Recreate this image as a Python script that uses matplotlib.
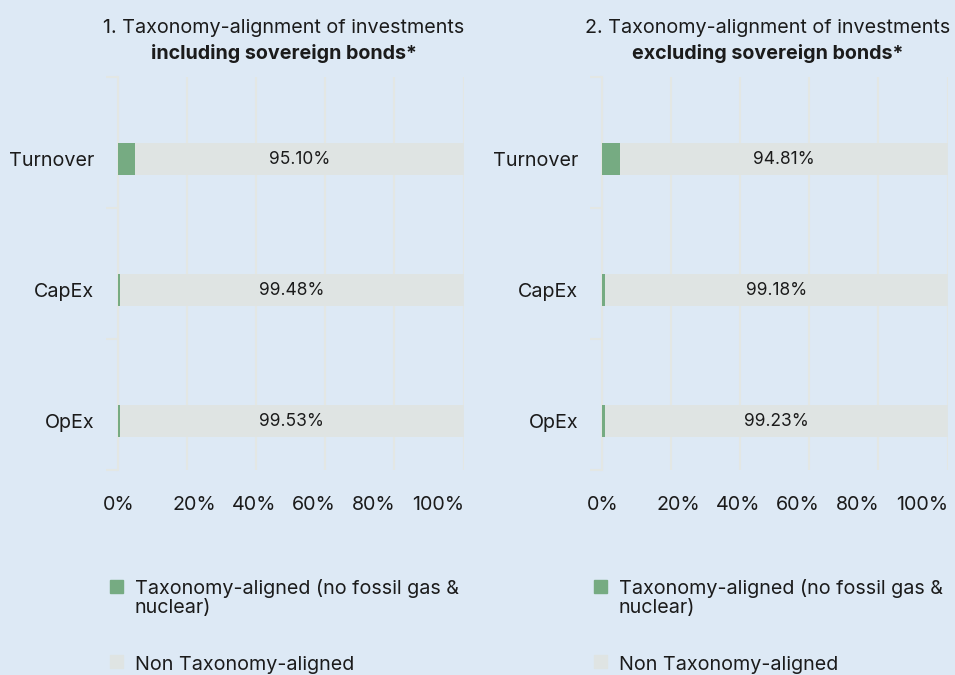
import matplotlib.pyplot as plt
from matplotlib.patches import Rectangle

plt.rcParams['font.family'] = ['Inter', 'DejaVu Sans']

# Data
categories = ['Turnover', 'CapEx', 'OpEx']
aligned_incl = [4.90, 0.52, 0.47]
non_aligned_incl = [95.10, 99.48, 99.53]
aligned_excl = [5.19, 0.82, 0.77]
non_aligned_excl = [94.81, 99.18, 99.23]
titles = ['1. Taxonomy-alignment of investments', '2. Taxonomy-alignment of investments']
subtitles = ['including sovereign bonds*', 'excluding sovereign bonds*']
tick_values = [0, 20, 40, 60, 80, 100]
legend_labels = ['Taxonomy-aligned (no fossil gas &\nnuclear)', 'Non Taxonomy-aligned']

bg = '#dde9f5'
green = '#76ab82'
grey = '#dfe4e3'
line_col = '#e3e7e4'
text_col = '#1b1b1b'
fs = 14.2

fig = plt.figure(figsize=(9.55, 6.75), dpi=100, facecolor=bg)

panels = [
    (0.1236, aligned_incl, non_aligned_incl),
    (0.6304, aligned_excl, non_aligned_excl),
]
# tick labels are spread evenly under the axis rather than under each gridline
label_pos = [0.003, 0.22, 0.393, 0.567, 0.741, 0.927]
# bars sit a little below the middle of their band
band_shift = 0.126

for i, (left, aligned, non_aligned) in enumerate(panels):
    ax = fig.add_axes([left, 0.3037, 0.3618, 0.5822])
    ax.set_facecolor(bg)
    y = list(range(len(categories)))
    ax.barh(y, aligned, height=0.245, color=green, zorder=3)
    bars = ax.barh(y, non_aligned, left=aligned, height=0.245, color=grey, zorder=3)
    for b, v in zip(bars, non_aligned):
        ax.text(b.get_x() + b.get_width() / 2, b.get_y() + b.get_height() / 2,
                f'{v:.2f}%', ha='center', va='center', fontsize=12.5,
                color=text_col, zorder=4)

    ax.set_xlim(0, 100)
    lo, hi = -0.5 - band_shift, len(categories) - 0.5 - band_shift
    ax.set_ylim(hi, lo)
    ax.set_xticks(tick_values)
    ax.set_xticklabels([])
    ax.tick_params(axis='x', length=0)
    ax.grid(axis='x', color=line_col, linewidth=1.5, zorder=0)
    ax.set_axisbelow(True)
    for j, v in enumerate(tick_values):
        ax.text(label_pos[j], -0.089, f'{v}%', transform=ax.transAxes,
                ha='center', va='center', fontsize=fs, color=text_col)

    ax.set_yticks(y)
    ax.set_yticklabels(categories, fontsize=fs, color=text_col)
    ax.tick_params(axis='y', which='major', length=0, pad=17)
    ax.set_yticks([lo + k for k in range(len(categories) + 1)], minor=True)
    ax.tick_params(axis='y', which='minor', length=9, width=1.5, color=line_col)

    for s in ['top', 'right', 'bottom']:
        ax.spines[s].set_visible(False)
    ax.spines['left'].set_color(line_col)
    ax.spines['left'].set_linewidth(1.5)

    ax.text(0.48, 1.124, titles[i], transform=ax.transAxes, ha='center',
            va='center', fontsize=fs, color=text_col)
    ax.text(0.48, 1.061, subtitles[i], transform=ax.transAxes, ha='center',
            va='center', fontsize=fs, fontweight='bold', color=text_col)

    # legend drawn by hand so the swatch sits on the first text line
    lx = left - 0.0085
    for k, (lab, col) in enumerate(zip(legend_labels, [green, grey])):
        sq_bottom = 0.1215 - k * 0.111
        fig.patches.append(Rectangle((lx, sq_bottom), 0.0136, 0.0193,
                                     transform=fig.transFigure, color=col))
        if '\n' in lab:
            fig.text(lx + 0.026, sq_bottom + 0.0205, lab, ha='left', va='top',
                     fontsize=fs, color=text_col, linespacing=1.05)
        else:
            fig.text(lx + 0.026, sq_bottom + 0.005, lab, ha='left', va='center',
                     fontsize=fs, color=text_col)

plt.savefig('out.png', dpi=100, facecolor=bg)
